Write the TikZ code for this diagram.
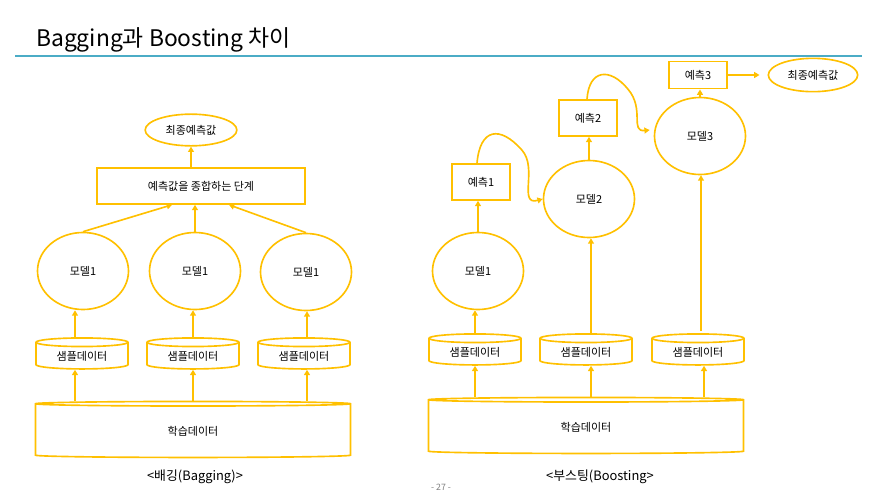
\documentclass[tikz,border=0pt]{standalone}
\usepackage{fontspec}
\setmainfont{Noto Sans CJK KR}
\usepackage{xcolor}
\usetikzlibrary{arrows.meta,positioning,calc,shapes.geometric}
\definecolor{gold}{RGB}{255,192,0}
\definecolor{teal}{RGB}{75,172,198}
\tikzset{
  Mell/.style={draw=gold, line width=1.4pt, ellipse, font=\fontsize{9.4}{11}\selectfont,
               minimum width=2.73cm, minimum height=2.31cm, inner sep=0pt},
  Fell/.style={draw=gold, line width=1.4pt, ellipse, font=\fontsize{9.4}{11}\selectfont,
               minimum width=2.75cm, minimum height=0.95cm, inner sep=0pt},
  Pbox/.style={draw=gold, line width=1.4pt, font=\fontsize{9.4}{11}\selectfont,
               minimum width=1.74cm, minimum height=1.08cm, inner sep=0pt},
  Dcyl/.style={draw=gold, line width=1.4pt, cylinder, shape border rotate=90,
               font=\fontsize{9.4}{11}\selectfont, minimum width=2.76cm,
               minimum height=0.93cm, aspect=0.17, inner sep=0pt},
  Tcyl/.style={Dcyl, minimum width=9.45cm, minimum height=1.68cm, aspect=0.09},
  Narr/.style={-{Triangle[length=4.5pt,width=5pt]}, line width=1.4pt, gold}
}
\begin{document}
\begin{tikzpicture}[x=0.03cm, y=-0.03cm]
  \useasboundingbox (0,0) rectangle (887,497);

  % title
  \node[anchor=west, font=\fontsize{19.5}{22}\selectfont, inner sep=0pt] (title) at (36,40)
    {Bagging과 Boosting 차이};
  \coordinate (rl) at (15,56);
  \coordinate (rr) at (862,56);
  \draw[teal, line width=1.6pt] (rl) -- (rr);

  % bagging
  \node[Fell] (lfin) at (191,130) {최종예측값};
  \node[Pbox, minimum width=6.24cm] (lagg) at (201,186) {예측값을 종합하는 단계};
  \node[Mell] (lm1) at (83,271) {모델1};
  \node[Mell] (lm2) at (195,271) {모델1};
  \node[Mell] (lm3) at (306,272) {모델1};
  \node[Dcyl] (ls1) at (82,356) {샘플데이터};
  \node[Dcyl] (ls2) at (193,356) {샘플데이터};
  \node[Dcyl] (ls3) at (304,356) {샘플데이터};
  \node[Tcyl] (ltr) at (193,431) {학습데이터};
  \node[font=\fontsize{11}{13}\selectfont] (lcap) at (195,477) {<배깅(Bagging)>};

  \draw[Narr] ($(ltr.north -| ls1)+(-7,0)$) -- ($(ls1.south)+(-7,0)$);
  \draw[Narr] (ltr.north -| ls2) -- (ls2.south);
  \draw[Narr] ($(ltr.north -| ls3)+(3,0)$) -- ($(ls3.south)+(3,0)$);
  \draw[Narr] ($(ls1.north)+(-7,0)$) -- ($(ls1.north |- lm1.south)+(-7,0)$);
  \draw[Narr] (ls2.north) -- (ls2.north |- lm2.south);
  \draw[Narr] ($(ls3.north)+(3,0)$) -- ($(ls3.north |- lm3.south)+(3,0)$);
  \draw[Narr] (lm1.north) -- ($(lagg.south)+(-29,0)$);
  \draw[Narr] (lm2.north) -- (lm2.north |- lagg.south);
  \draw[Narr] (lm3.north) -- ($(lagg.south)+(28,0)$);
  \draw[Narr] (lagg.north -| lfin) -- (lfin.south);

  % boosting
  \node[Mell] (rm1) at (478,271) {모델1};
  \node[Mell] (rm2) at (589,199) {모델2};
  \node[Mell] (rm3) at (700,136) {모델3};
  \node[Pbox] (rp1) at (481,182) {예측1};
  \node[Pbox] (rp2) at (588,118) {예측2};
  \node[Pbox, minimum height=0.82cm] (rp3) at (698,75) {예측3};
  \node[Fell, minimum width=2.68cm, minimum height=1.0cm] (rfin) at (813,75) {최종예측값};
  \node[Dcyl] (rs1) at (475,352) {샘플데이터};
  \node[Dcyl] (rs2) at (586,352) {샘플데이터};
  \node[Dcyl] (rs3) at (698,352) {샘플데이터};
  \node[Tcyl] (rtr) at (586,427) {학습데이터};
  \node[font=\fontsize{11}{13}\selectfont] (rcap) at (600,477) {<부스팅(Boosting>};
  \node[font=\fontsize{7.5}{9}\selectfont, text=gray] (pg) at (441,487) {- 27 -};

  \draw[Narr] (rtr.north -| rs1) -- (rs1.south);
  \draw[Narr] ($(rtr.north -| rs2)+(5,0)$) -- ($(rs2.south)+(5,0)$);
  \draw[Narr] ($(rtr.north -| rs3)+(6,0)$) -- ($(rs3.south)+(6,0)$);
  \draw[Narr] (rs1.north) -- (rs1.north |- rm1.south);
  \draw[Narr] ($(rs2.north)+(5,0)$) -- ($(rs2.north |- rm2.south)+(5,0)$);
  \draw[Narr] ($(rs3.north)+(3,-2)$) -- ($(rs3.north |- rm3.south)+(3,0)$);
  \draw[Narr] (rm1.north) -- (rm1.north |- rp1.south);
  \draw[Narr] (rm2.north) -- (rm2.north |- rp2.south);
  \draw[Narr] (rm3.north) -- (rm3.north |- rp3.south);
  \draw[Narr, shorten >=0.24cm] (rp3.east) -- (rfin.west);
  \draw[Narr] ($(rp1.north)+(-4,0)$) .. controls +(3,-35) and +(-22,-25) .. ($(rp1.north)+(41,-13)$)
    .. controls +(16,18) and +(-25,7) .. (rm2.west);
  \draw[Narr] ($(rp2.north)+(-1,0)$) .. controls +(2,-30) and +(-18,-22) .. ($(rp2.north)+(40,-10)$)
    .. controls +(17,20) and +(-20,2) .. ($(rm3.west)+(-4,-6)$);
\end{tikzpicture}
\end{document}
